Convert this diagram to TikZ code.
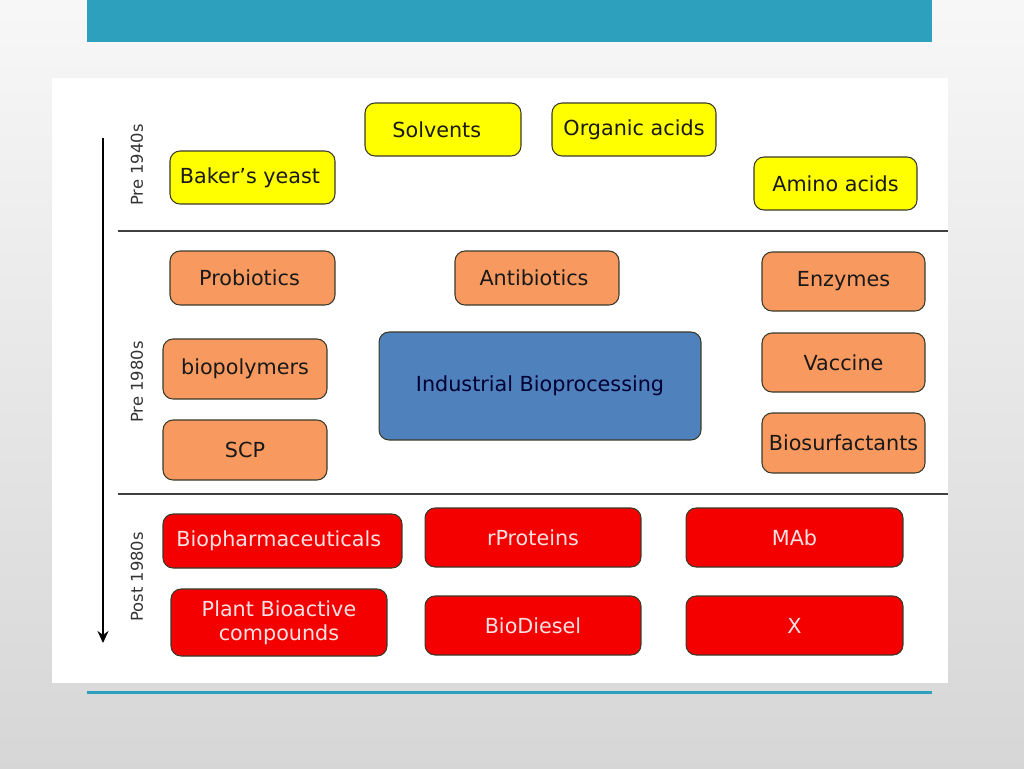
\documentclass[tikz,border=0pt]{standalone}
\usepackage{fontspec}
\setmainfont{DejaVu Sans}
\usetikzlibrary{arrows.meta, positioning}
\definecolor{Teal}{HTML}{2DA0BE}
\definecolor{Sun}{HTML}{FFFF00}
\definecolor{Salmon}{HTML}{F8995F}
\definecolor{SteelBlue}{HTML}{4F81BD}
\definecolor{BrightRed}{HTML}{F40000}
\definecolor{Edge}{HTML}{3A3A2A}
\definecolor{Pale}{HTML}{F6E2E2}

\begin{document}
\begin{tikzpicture}[x=0.02cm, y=-0.02cm,
    box/.style={draw=Edge, line width=0.6pt, rounded corners=0.2cm,
      font=\fontsize{11.8}{13.6}\selectfont, align=center, inner sep=0pt},
    yellowbox/.style={box, fill=Sun, text=black!90},
    orangebox/.style={box, fill=Salmon, text=black!90},
    redbox/.style={box, fill=BrightRed, text=Pale},
    era/.style={rotate=90, font=\fontsize{9.3}{11}\selectfont, text=black!80},
    divider/.style={draw=black!75, line width=0.6pt}]
  % slide background
  \shade[top color=gray!6, bottom color=gray!32] (0,0) rectangle (1024,768);
  \useasboundingbox (0,0) rectangle (1024,768);
  \fill[Teal] (87,0) rectangle (932,42);
  \fill[white] (52,78) rectangle (948,683);
  \draw[Teal, line width=1.7pt] (87,692) -- (932,692);

  % time axis
  \coordinate (start) at (103,138);
  \coordinate (stop) at (103,643);
  \draw[line width=1.3pt, -{Stealth[length=2.4mm, width=2.2mm, inset=0.8mm]}] (start) -- (stop);
  \node[era] (pre40) at (137,165) {Pre 1940s};
  \node[era] (pre80) at (137,382) {Pre 1980s};
  \node[era] (post80) at (137,577) {Post 1980s};

  % section lines
  \coordinate (d1l) at (118,231);
  \coordinate (d1r) at (948,231);
  \coordinate (d2l) at (118,494);
  \coordinate (d2r) at (948,494);
  \draw[divider] (d1l) -- (d1r);
  \draw[divider] (d2l) -- (d2r);

  % pre 1940s
  \node[yellowbox, minimum width=3.12cm, minimum height=1.06cm] (solvents) at (443,129.5) {Solvents\hspace{0.25cm}};
  \node[yellowbox, minimum width=3.28cm, minimum height=1.06cm] (organic) at (634,129.5) {Organic acids};
  \node[yellowbox, minimum width=3.3cm, minimum height=1.06cm] (yeast) at (252.5,177.5) {Baker’s yeast\hspace{0.1cm}};
  \node[yellowbox, minimum width=3.26cm, minimum height=1.06cm] (amino) at (835.5,183.5) {Amino acids};

  % pre 1980s
  \node[orangebox, minimum width=3.3cm, minimum height=1.08cm] (probiotics) at (252.5,278) {Probiotics\hspace{0.12cm}};
  \node[orangebox, minimum width=3.28cm, minimum height=1.08cm] (antibiotics) at (537,278) {Antibiotics\hspace{0.12cm}};
  \node[orangebox, minimum width=3.26cm, minimum height=1.18cm] (enzymes) at (843.5,281.5) {Enzymes};
  \node[orangebox, minimum width=3.28cm, minimum height=1.2cm] (biopolymers) at (245,369) {biopolymers};
  \node[box, fill=SteelBlue, text=black!80!blue, minimum width=6.44cm, minimum height=2.16cm] (core) at (540,386) {Industrial Bioprocessing};
  \node[orangebox, minimum width=3.26cm, minimum height=1.18cm] (vaccine) at (843.5,362.5) {Vaccine};
  \node[orangebox, minimum width=3.28cm, minimum height=1.2cm] (scp) at (245,450) {SCP};
  \node[orangebox, minimum width=3.26cm, minimum height=1.2cm] (surfactants) at (843.5,443) {Biosurfactants};

  % post 1980s
  \node[redbox, minimum width=4.78cm, minimum height=1.08cm] (pharma) at (282.5,541) {Biopharmaceuticals\hspace{0.15cm}};
  \node[redbox, minimum width=4.32cm, minimum height=1.18cm] (proteins) at (533,537.5) {rProteins};
  \node[redbox, minimum width=4.34cm, minimum height=1.18cm] (mab) at (794.5,537.5) {MAb};
  \node[redbox, minimum width=4.32cm, minimum height=1.34cm] (plant) at (279,622.5) {Plant Bioactive\\compounds};
  \node[redbox, minimum width=4.32cm, minimum height=1.18cm] (diesel) at (533,625.5) {BioDiesel};
  \node[redbox, minimum width=4.34cm, minimum height=1.18cm] (x) at (794.5,625.5) {X};
\end{tikzpicture}
\end{document}
